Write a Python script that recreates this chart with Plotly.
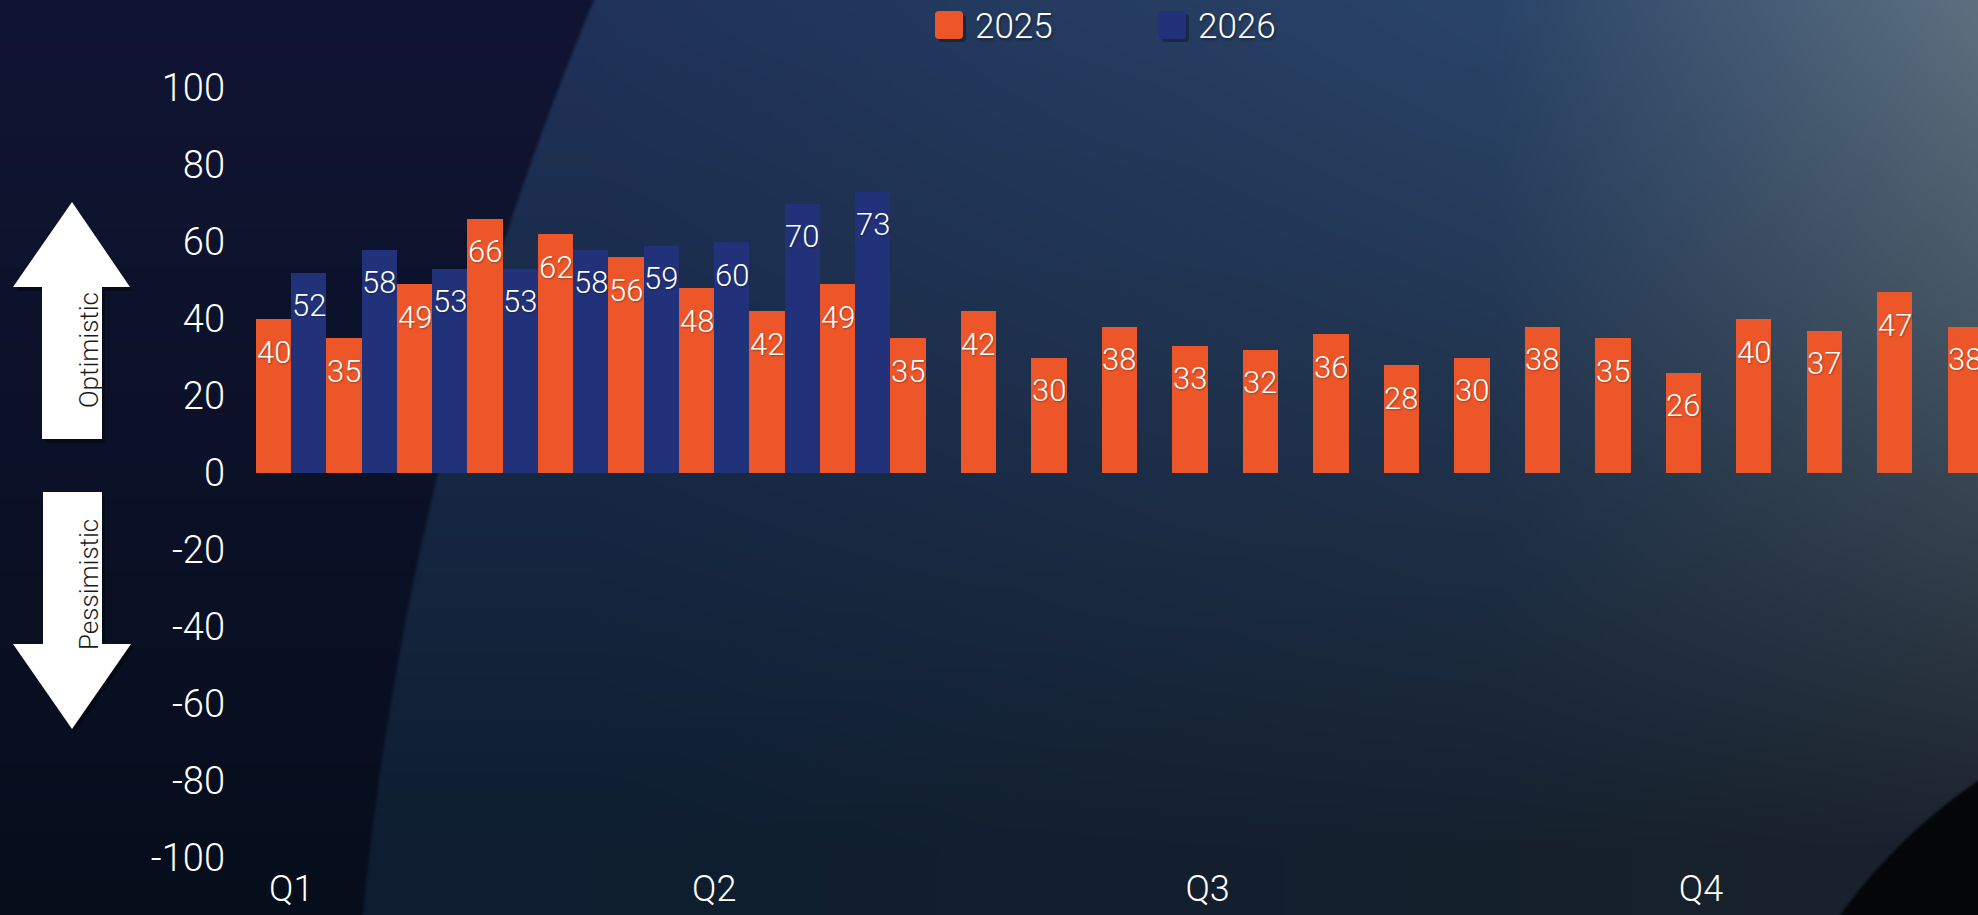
import base64
import struct
import zlib

import numpy as np
import plotly.graph_objects as go

# weekly index values
weeks = list(range(25))
index_2025 = [40, 35, 49, 66, 62, 56, 48, 42, 49, 35, 42, 30, 38, 33, 32, 36, 28, 30, 38, 35, 26, 40, 37, 47, 38]
index_2026 = [52, 58, 53, 53, 58, 59, 60, 70, 73]
quarter_ticks = [0, 6, 13, 20]
quarter_labels = ["Q1", "Q2", "Q3", "Q4"]
y_ticks = list(range(-100, 101, 20))
y_labels = [str(v) for v in y_ticks]

ORANGE = "#ED5629"
NAVY = "#21327A"
FONT = "Roboto"

W, H = 1978, 915
L, R, T, B = 256, 0, 88, 57
PW, PH = W - L - R, H - T - B


def to_paper(x, y):
    # pixel position on the page -> paper coordinates
    return (x - L) / PW, (H - B - y) / PH


def poly_path(points, dx=0, dy=0):
    parts = []
    for i, (x, y) in enumerate(points):
        px, py = to_paper(x + dx, y + dy)
        parts.append(("M" if i == 0 else "L") + f"{px:.5f},{py:.5f}")
    return " ".join(parts) + " Z"


def rounded_rect(x0, y0, x1, y1, r, dx=0, dy=0):
    pts = [(x0 + r, y0), (x1 - r, y0), ("Q", x1, y0, x1, y0 + r), (x1, y1 - r),
           ("Q", x1, y1, x1 - r, y1), (x0 + r, y1), ("Q", x0, y1, x0, y1 - r),
           (x0, y0 + r), ("Q", x0, y0, x0 + r, y0)]
    out = []
    for i, p in enumerate(pts):
        if p[0] == "Q":
            cx, cy = to_paper(p[1] + dx, p[2] + dy)
            ex, ey = to_paper(p[3] + dx, p[4] + dy)
            out.append(f"Q{cx:.5f},{cy:.5f} {ex:.5f},{ey:.5f}")
        else:
            px, py = to_paper(p[0] + dx, p[1] + dy)
            out.append(("M" if i == 0 else "L") + f"{px:.5f},{py:.5f}")
    return " ".join(out) + " Z"


def png_uri(img):
    h, w, _ = img.shape
    raw = b"".join(b"\x00" + img[i].tobytes() for i in range(h))

    def chunk(tag, data):
        return struct.pack(">I", len(data)) + tag + data + struct.pack(">I", zlib.crc32(tag + data) & 0xFFFFFFFF)

    png = (b"\x89PNG\r\n\x1a\n" + chunk(b"IHDR", struct.pack(">IIBBBBB", w, h, 8, 2, 0, 0, 0))
           + chunk(b"IDAT", zlib.compress(raw, 9)) + chunk(b"IEND", b""))
    return "data:image/png;base64," + base64.b64encode(png).decode()


def lerp(a, b, t):
    return np.array(a, float) * (1 - t[..., None]) + np.array(b, float) * t[..., None]


def make_background(w=989, h=458):
    ys, xs = np.mgrid[0:h, 0:w].astype(float)
    X, Y = xs * W / w, ys * H / h
    t = Y / H
    img = lerp((17, 21, 52), (6, 14, 28), t)

    # big lighter disc (record) on the right
    d = np.hypot(X - 3500, Y - 1220)
    inside = np.clip((3155 - d) / 4, 0, 1)
    u = np.clip((X - 590) / 1388, 0, 1)
    u1 = np.clip(u / 0.65, 0, 1)
    u2 = np.clip((u - 0.65) / 0.35, 0, 1)
    top = lerp((32, 50, 88), (42, 68, 104), u1) * (u <= 0.65)[..., None] + \
        lerp((42, 68, 104), (92, 112, 128), u2) * (u > 0.65)[..., None]
    bot = lerp((14, 30, 48), (26, 34, 44), u)
    s = np.clip(Y / 850, 0, 1) ** 1.1
    disc = top * (1 - s[..., None]) + bot * s[..., None]
    img = img * (1 - inside[..., None]) + disc * inside[..., None]

    # black label disc bottom right
    d2 = np.hypot(X - 2300, Y - 1250)
    inner = np.clip((572 - d2) / 3, 0, 1)
    img = img * (1 - inner[..., None]) + np.array([4, 6, 9], float) * inner[..., None]
    return np.clip(img, 0, 255).astype(np.uint8)


fig = go.Figure()

series = [("2025", index_2025, ORANGE), ("2026", index_2026, NAVY)]
half = 0.5 / len(series)  # bars fill the whole slot (bargap 0), two per slot
annotations = []
label_font = dict(family=FONT, size=31, color="white", weight=300, shadow="1px 1px 2px rgba(0,0,0,0.3)")
for k, (name, vals, color) in enumerate(series):
    xs = weeks[:len(vals)]
    fig.add_trace(go.Bar(x=xs, y=vals, name=name, marker=dict(color=color, line=dict(width=0)),
                         showlegend=False))
    shift = -0.5 + half * (2 * k + 1)
    for x, v in zip(xs, vals):
        annotations.append(dict(x=x + shift, y=v, text=str(v), xref="x", yref="y", showarrow=False,
                                yanchor="middle", yshift=-33, font=label_font))

shapes = []
# optimistic / pessimistic arrows
up_arrow = [(72, 202), (130, 287), (102, 287), (102, 439), (42, 439), (42, 287), (13, 287)]
down_arrow = [(43, 492), (102, 492), (102, 644), (131, 644), (72, 729), (13, 644), (43, 644)]
for arrow in (up_arrow, down_arrow):
    shapes.append(dict(type="path", xref="paper", yref="paper", path=poly_path(arrow, 3, 4),
                       fillcolor="rgba(0,0,0,0.35)", line=dict(width=0), layer="above"))
    shapes.append(dict(type="path", xref="paper", yref="paper", path=poly_path(arrow),
                       fillcolor="white", line=dict(width=0), layer="above"))

# legend swatches
legend_x = [935, 1158]
for (name, vals, color), x0 in zip(series, legend_x):
    shapes.append(dict(type="path", xref="paper", yref="paper", path=rounded_rect(x0, 11, x0 + 28, 39, 4, 3, 3),
                       fillcolor="rgba(0,0,0,0.3)", line=dict(width=0)))
    shapes.append(dict(type="path", xref="paper", yref="paper", path=rounded_rect(x0, 11, x0 + 28, 39, 4),
                       fillcolor=color, line=dict(width=0)))
    lx, ly = to_paper(x0 + 38, 26)
    annotations.append(dict(text=name, x=lx, y=ly, xref="paper", yref="paper", xanchor="left",
                            yanchor="middle", showarrow=False,
                            font=dict(family=FONT, size=35, color="white", weight=300,
                                      shadow="1px 2px 3px rgba(0,0,0,0.4)")))

for text, y in (("Optimistic", 350), ("Pessimistic", 585)):
    ax, ay = to_paper(72, y)
    annotations.append(dict(text=text, x=ax, y=ay, xref="paper", yref="paper", textangle=-90,
                            showarrow=False, font=dict(family=FONT, size=26, color="#1a1a1a", weight=300)))

bx, by = to_paper(0, 0)
fig.update_layout(
    width=W, height=H,
    margin=dict(l=L, r=R, t=T, b=B),
    barmode="group", bargap=0, bargroupgap=0,
    paper_bgcolor="#0d1630", plot_bgcolor="rgba(0,0,0,0)",
    font=dict(family=FONT, color="white"),
    showlegend=False,
    shapes=shapes, annotations=annotations,
    images=[dict(source=png_uri(make_background()), xref="paper", yref="paper", x=bx, y=by,
                 sizex=W / PW, sizey=H / PH, xanchor="left", yanchor="top", sizing="stretch",
                 layer="below")],
)
fig.update_xaxes(range=[-0.5, 23.93], tickvals=quarter_ticks, ticktext=quarter_labels, showgrid=False,
                 zeroline=False, showline=False, ticks="", ticklabelstandoff=6, automargin=False,
                 tickfont=dict(family=FONT, size=36, color="white", weight=300))
fig.update_yaxes(range=[-100, 100], tickvals=y_ticks, ticktext=y_labels, showgrid=False, zeroline=False,
                 showline=False, ticks="", ticklabelstandoff=30, automargin=False,
                 tickfont=dict(family=FONT, size=38, color="white", weight=300))

fig.write_html("out.html", config={"displayModeBar": False},
               post_script="document.body.style.margin='0';")
